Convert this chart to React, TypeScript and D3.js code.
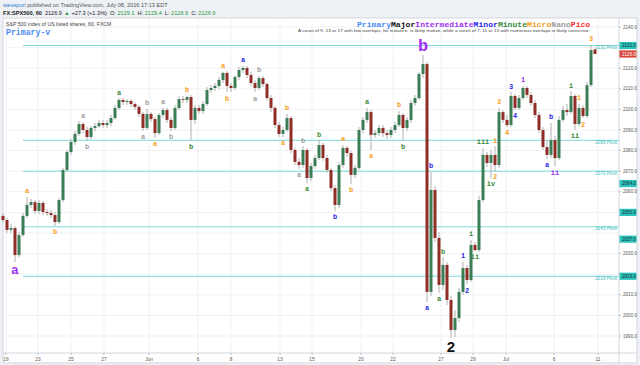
import React from 'react';
import * as d3 from 'd3';

// hourly-ish candles, [open, high, low, close]
const candles: [number, number, number, number][] = [
  [2048.3, 2049.7, 2045.3, 2046.3], [2046.3, 2047.3, 2040.0, 2041.5], [2041.5, 2044.4, 2040.0, 2042.4],
  [2042.4, 2043.4, 2025.9, 2029.3], [2029.3, 2040.5, 2028.3, 2039.0], [2039.0, 2049.7, 2038.1, 2048.3],
  [2048.3, 2057.5, 2047.3, 2053.6], [2053.6, 2056.5, 2052.1, 2055.0], [2055.0, 2056.0, 2049.2, 2050.7],
  [2050.7, 2056.0, 2049.2, 2054.6], [2054.6, 2055.5, 2048.7, 2050.2], [2050.2, 2051.6, 2048.3, 2049.7],
  [2049.7, 2051.2, 2047.3, 2048.7], [2048.7, 2050.2, 2043.4, 2045.3], [2045.3, 2057.0, 2044.4, 2056.0],
  [2056.0, 2071.6, 2055.0, 2070.6], [2070.6, 2080.3, 2069.6, 2079.3], [2079.3, 2085.6, 2077.9, 2084.2],
  [2084.2, 2089.5, 2082.7, 2088.1], [2088.1, 2094.4, 2087.1, 2092.9], [2092.9, 2093.9, 2088.5, 2090.0],
  [2090.0, 2091.5, 2085.1, 2086.6], [2086.6, 2091.9, 2085.6, 2091.0], [2091.0, 2093.4, 2089.5, 2091.9],
  [2091.9, 2094.9, 2091.0, 2093.4], [2093.4, 2094.9, 2091.0, 2092.4], [2092.4, 2094.9, 2091.0, 2093.4],
  [2093.4, 2097.3, 2091.9, 2095.8], [2095.8, 2102.1, 2094.9, 2100.7], [2100.7, 2105.5, 2099.7, 2104.6],
  [2104.6, 2105.5, 2102.1, 2103.6], [2103.6, 2105.0, 2102.1, 2104.1], [2104.1, 2105.0, 2101.2, 2102.6],
  [2102.6, 2103.6, 2099.7, 2101.2], [2101.2, 2102.1, 2096.3, 2097.8], [2097.8, 2098.7, 2089.5, 2091.0],
  [2091.0, 2100.2, 2090.0, 2097.8], [2097.8, 2098.7, 2093.9, 2095.3], [2095.3, 2096.3, 2086.1, 2088.5],
  [2088.5, 2098.3, 2087.6, 2097.3], [2097.3, 2100.7, 2095.8, 2099.7], [2099.7, 2100.7, 2093.4, 2094.9],
  [2094.9, 2096.3, 2089.5, 2091.0], [2091.0, 2102.1, 2090.0, 2100.7], [2100.7, 2106.5, 2099.7, 2105.0],
  [2105.0, 2106.5, 2103.1, 2104.6], [2104.6, 2106.5, 2103.1, 2106.0], [2106.0, 2107.0, 2085.1, 2094.9],
  [2094.9, 2102.1, 2092.9, 2100.7], [2100.7, 2102.1, 2097.8, 2099.2], [2099.2, 2104.1, 2097.8, 2102.6],
  [2102.6, 2110.9, 2101.7, 2109.4], [2109.4, 2111.8, 2108.0, 2110.4], [2110.4, 2112.8, 2108.9, 2111.4],
  [2111.4, 2115.7, 2109.9, 2114.3], [2114.3, 2118.2, 2112.8, 2117.7], [2117.7, 2118.6, 2108.4, 2111.4],
  [2111.4, 2112.8, 2108.4, 2110.4], [2110.4, 2116.7, 2109.4, 2115.7], [2115.7, 2120.6, 2114.3, 2119.1],
  [2119.1, 2121.1, 2117.7, 2120.1], [2120.1, 2121.1, 2115.2, 2116.7], [2116.7, 2118.2, 2111.4, 2112.8],
  [2112.8, 2114.3, 2108.4, 2110.4], [2110.4, 2116.2, 2109.4, 2115.2], [2115.2, 2116.2, 2110.9, 2112.3],
  [2112.3, 2113.3, 2104.1, 2105.5], [2105.5, 2107.0, 2098.7, 2100.7], [2100.7, 2101.7, 2091.0, 2092.4],
  [2092.4, 2093.9, 2086.6, 2088.1], [2088.1, 2091.5, 2086.6, 2090.0], [2090.0, 2097.8, 2089.0, 2095.8],
  [2095.8, 2096.8, 2078.8, 2080.3], [2080.3, 2081.3, 2073.0, 2074.5], [2074.5, 2076.4, 2071.1, 2073.0],
  [2073.0, 2082.2, 2071.6, 2080.3], [2080.3, 2081.3, 2064.3, 2066.7], [2066.7, 2074.0, 2065.2, 2072.5],
  [2072.5, 2077.9, 2071.1, 2076.4], [2076.4, 2085.1, 2075.4, 2082.7], [2082.7, 2083.7, 2075.0, 2076.4],
  [2076.4, 2077.9, 2069.1, 2070.6], [2070.6, 2071.6, 2060.4, 2061.8], [2061.8, 2063.3, 2050.7, 2053.6],
  [2053.6, 2074.5, 2052.1, 2073.0], [2073.0, 2082.7, 2071.6, 2081.3], [2081.3, 2082.2, 2076.9, 2078.8],
  [2078.8, 2079.8, 2063.8, 2068.2], [2068.2, 2073.0, 2066.7, 2071.6], [2071.6, 2091.5, 2070.6, 2090.0],
  [2090.0, 2096.3, 2088.5, 2094.9], [2094.9, 2100.7, 2093.4, 2098.7], [2098.7, 2099.7, 2080.3, 2087.6],
  [2087.6, 2090.0, 2086.1, 2088.5], [2088.5, 2092.4, 2087.1, 2091.0], [2091.0, 2092.4, 2086.6, 2088.5],
  [2088.5, 2090.0, 2085.6, 2087.6], [2087.6, 2091.5, 2086.1, 2090.0], [2090.0, 2093.9, 2088.5, 2092.4],
  [2092.4, 2099.2, 2091.5, 2097.3], [2097.3, 2098.3, 2085.1, 2091.0], [2091.0, 2096.3, 2089.5, 2094.9],
  [2094.9, 2104.6, 2093.4, 2103.1], [2103.1, 2107.0, 2101.7, 2105.5], [2105.5, 2118.2, 2104.6, 2117.2],
  [2117.2, 2126.4, 2115.2, 2122.0], [2122.0, 2123.0, 2006.5, 2011.4], [2011.4, 2069.6, 2009.4, 2060.9],
  [2060.9, 2062.8, 2035.6, 2037.6], [2037.6, 2040.5, 2010.9, 2014.8], [2014.8, 2028.3, 2012.3, 2024.5],
  [2024.5, 2025.9, 2005.0, 2007.5], [2007.5, 2009.4, 1989.0, 1992.9], [1992.9, 2002.6, 1989.5, 1998.7],
  [1998.7, 2013.3, 1996.8, 2011.4], [2011.4, 2025.9, 2009.9, 2023.0], [2023.0, 2024.5, 2015.2, 2017.2],
  [2017.2, 2036.6, 2016.2, 2034.2], [2034.2, 2035.6, 2031.3, 2031.7], [2031.7, 2058.0, 2030.8, 2056.0],
  [2056.0, 2081.3, 2055.0, 2077.9], [2077.9, 2079.3, 2072.0, 2074.0], [2074.0, 2080.3, 2066.7, 2077.9],
  [2077.9, 2082.2, 2070.1, 2073.0], [2073.0, 2100.7, 2071.6, 2098.7], [2098.7, 2099.7, 2093.4, 2094.9],
  [2094.9, 2097.3, 2091.5, 2092.4], [2092.4, 2108.4, 2091.5, 2106.5], [2106.5, 2107.5, 2099.7, 2100.7],
  [2100.7, 2107.0, 2099.7, 2105.5], [2105.5, 2111.4, 2104.6, 2110.4], [2110.4, 2111.4, 2105.5, 2107.0],
  [2107.0, 2108.4, 2101.7, 2103.1], [2103.1, 2104.6, 2095.8, 2097.3], [2097.3, 2098.7, 2088.5, 2090.0],
  [2090.0, 2091.5, 2080.3, 2081.7], [2081.7, 2085.1, 2075.9, 2077.9], [2077.9, 2093.4, 2076.4, 2085.1],
  [2085.1, 2087.1, 2072.5, 2076.4], [2076.4, 2096.8, 2075.4, 2094.9], [2094.9, 2101.7, 2093.9, 2099.7],
  [2099.7, 2102.6, 2096.8, 2098.7], [2098.7, 2108.9, 2097.8, 2106.5], [2106.5, 2107.5, 2090.0, 2092.9],
  [2092.9, 2102.6, 2091.9, 2100.7], [2100.7, 2102.1, 2095.8, 2096.8], [2096.8, 2113.3, 2095.8, 2111.8],
  [2111.8, 2131.3, 2110.9, 2128.8], [2129.1, 2129.4, 2126.9, 2126.9],
];

const priceTicks = [2140, 2130, 2120, 2110, 2100, 2090, 2080, 2070, 2060, 2050, 2040, 2030, 2020, 2010, 2000, 1990];
const dateLabels = ['19', '23', '25', '27', 'Jun', '6', '8', '13', '15', '20', '22', '27', '29', 'Jul', '6', '11'];
const dateBars = [0.75, 8.75, 17, 25.25, 36.5, 48.75, 57, 69.25, 77.25, 89.5, 97.5, 109.5, 117.5, 125.75, 137.75, 148.75];

const pivots = [2131, 2085, 2070, 2043, 2019];
const axisMarks = [2131, 2064, 2050, 2037, 2019];

const degrees = ['Primary', 'Major', 'Intermediate', 'Minor', 'Minute', 'Micro', 'Nano', 'Pico'];
const degreeColors = ['#4a8cf5', '#111111', '#a030f0', '#2626e8', '#3c8a3c', '#f7a01c', '#a0a0a0', '#ff3030'];

// [bar, text, degree, above?, size]
const waves: [number, string, string, boolean, number][] = [
  [3, 'a', 'Intermediate', false, 13], [6, 'a', 'Micro', true, 7], [13, 'b', 'Micro', false, 7],
  [20, 'a', 'Nano', true, 7], [21, 'b', 'Nano', false, 7], [29, 'a', 'Minute', true, 7],
  [35, 'a', 'Nano', false, 7], [36, 'b', 'Nano', true, 7], [38, 'a', 'Micro', false, 7],
  [40, 'a', 'Nano', true, 7], [42, 'b', 'Nano', false, 7], [46, 'b', 'Micro', true, 7],
  [47, 'b', 'Minute', false, 7], [55, 'a', 'Micro', true, 7], [56, 'b', 'Micro', false, 7],
  [60, 'a', 'Minor', true, 7], [63, 'a', 'Nano', false, 7], [64, 'b', 'Nano', true, 7],
  [70, 'a', 'Micro', false, 7], [71, 'b', 'Micro', true, 7], [74, 'a', 'Nano', false, 7],
  [75, 'b', 'Nano', true, 7], [76, 'a', 'Minute', false, 7], [79, 'b', 'Minute', true, 7],
  [83, 'b', 'Minor', false, 7], [85, 'a', 'Micro', true, 7], [87, 'b', 'Micro', false, 7],
  [91, 'a', 'Minute', true, 7], [92, 'a', 'Micro', false, 7], [99, 'b', 'Micro', true, 7],
  [100, 'b', 'Minute', false, 7], [105, 'b', 'Intermediate', true, 17], [106, 'a', 'Minor', false, 7],
  [107, 'b', 'Minor', true, 7], [109, 'a', 'Minute', false, 7], [110, 'b', 'Minute', true, 7],
  [112, '2', 'Major', false, 15], [115, '1', 'Minor', true, 7], [116, '2', 'Minor', false, 7],
  [117, 'i', 'Minute', true, 7], [118, 'ii', 'Minute', false, 7], [120, 'iii', 'Minute', true, 7],
  [122, 'iv', 'Minute', false, 7], [123, 'i', 'Micro', true, 7], [123, '2', 'Micro', false, 7],
  [124, '3', 'Micro', true, 7], [126, '4', 'Micro', false, 7], [127, '3', 'Minor', true, 7],
  [128, '4', 'Minor', false, 7], [130, '1', 'Intermediate', true, 7], [136, 'a', 'Minor', false, 7],
  [137, 'b', 'Minor', true, 7], [138, 'ii', 'Intermediate', false, 7], [142, 'i', 'Minute', true, 7],
  [143, 'ii', 'Minute', false, 7], [144, '1', 'Micro', true, 7], [145, '2', 'Micro', false, 7],
  [147, '3', 'Micro', true, 7],
];

const mono = "'Liberation Mono', 'DejaVu Sans Mono', monospace";
const sans = "Arial, 'Liberation Sans', sans-serif";

export default function App() {
  const left = 3, right = 619, top = 18, bottom = 353;
  const x = d3.scaleLinear().domain([0, 148]).range([3, 595]);
  const y = d3.scaleLinear().domain([1990, 2140]).range([336, 27]);
  const color = d3.scaleOrdinal<string, string>().domain(degrees).range(degreeColors);
  const fmt = d3.format('.1f');
  const bw = 3;
  const last = candles[candles.length - 1];
  const boxed = [...axisMarks, last[3]];
  // tick labels hidden behind the coloured axis boxes, as on the original
  const freeTicks = priceTicks.filter(p => boxed.every(b => Math.abs(y(p) - y(b)) > 7.5));

  return (
    <svg width={640} height={365} style={{ position: 'absolute', left: 0, top: 0 }} fontFamily={sans}>
      <rect width={640} height={365} fill="#eef1f5" />
      <text x={3} y={7} fontSize={5.6} fill="#555">
        <tspan fill="#2f7ad0">stevepuri</tspan> published on TradingView.com, July 08, 2016 17:13 EDT
      </text>
      <text x={3} y={14.5} fontSize={5.6} fill="#222">
        <tspan fontWeight="bold">FX:SPX500, 60</tspan>
        <tspan dx={3}>2126.9</tspan>
        <tspan dx={2} fill="#2a9a3a">▲</tspan>
        <tspan dx={2}>+27.3 (+1.3%)</tspan>
        <tspan dx={3}>O: </tspan><tspan fill="#2a9a3a">2129.1</tspan>
        <tspan dx={3}>H: </tspan><tspan fill="#2a9a3a">2129.4</tspan>
        <tspan dx={3}>L: </tspan><tspan fill="#2a9a3a">2126.9</tspan>
        <tspan dx={3}>C: </tspan><tspan fill="#2a9a3a">2126.9</tspan>
      </text>

      <rect x={left} y={top} width={637 - left} height={363 - top} fill="#fff" stroke="#c8ccd2" strokeWidth={0.8} />

      {priceTicks.map(p => (
        <line key={'h' + p} x1={left} x2={right} y1={y(p)} y2={y(p)} stroke="#f0f1f3" strokeWidth={1} />
      ))}
      {dateBars.map((b, i) => (
        <line key={'v' + i} x1={x(b)} x2={x(b)} y1={top} y2={bottom} stroke="#f0f1f3" strokeWidth={1} />
      ))}

      <text x={6} y={26} fontSize={5.2} fill="#444">S&amp;P 500 index of US listed shares, 60, FXCM</text>
      <text x={6} y={35} fontSize={8.2} fontFamily={mono} fontWeight="bold" fill={color('Primary')}>Primary-v</text>
      <text x={357} y={27} fontSize={8.1} fontFamily={mono} fontWeight="bold">
        {degrees.map(d => <tspan key={d} fill={color(d)}>{d}</tspan>)}
      </text>
      <text x={590} y={32} fontSize={4} fill="#444" textAnchor="end" textLength={292} lengthAdjust="spacingAndGlyphs">
        A count of 9, 13 or 17 with few overlaps, for instance, is likely motive, while a count of 7, 11 or 15 with numerous overlaps is likely corrective.
      </text>

      {pivots.map(p => (
        <g key={'p' + p}>
          <line x1={23} x2={right} y1={y(p)} y2={y(p)} stroke="#7fd9d9" strokeWidth={1} />
          <text x={617} y={y(p) + 3.5} fontSize={4.6} fill="#3cbcbc" textAnchor="end">{p} Pivot</text>
        </g>
      ))}

      {candles.map((c, i) => {
        const [o, h, l, cl] = c;
        const up = cl >= o;
        const yt = y(Math.max(o, cl));
        const hgt = Math.max(0.8, y(Math.min(o, cl)) - yt);
        return (
          <g key={'c' + i}>
            <line x1={x(i)} x2={x(i)} y1={y(h)} y2={y(l)} stroke="#b0b0b0" strokeWidth={1} />
            <rect x={x(i) - bw / 2} y={yt} width={bw} height={hgt} fill={up ? '#3b7d55' : '#8f2e27'} />
          </g>
        );
      })}

      {waves.map(([b, t, d, above, s], i) => {
        const c = candles[b];
        const big = s > 10;
        const off = big ? s * 0.6 : 6;
        const cy = above ? y(c[1]) - off : y(c[2]) + off;
        return (
          <text key={'w' + i} x={x(b)} y={cy} dy="0.35em" textAnchor="middle" fontSize={s}
            fontFamily={d === 'Major' ? sans : mono} fontWeight="bold" fill={color(d)}>{t}</text>
        );
      })}

      <line x1={right} x2={right} y1={top} y2={363} stroke="#c8ccd2" strokeWidth={0.8} />
      <line x1={left} x2={637} y1={bottom} y2={bottom} stroke="#c8ccd2" strokeWidth={0.8} />

      {freeTicks.map(p => (
        <g key={'t' + p}>
          <line x1={right} x2={right + 2} y1={y(p)} y2={y(p)} stroke="#999" strokeWidth={0.6} />
          <text x={623} y={y(p)} dy="0.35em" fontSize={4.6} fill="#555">{fmt(p)}</text>
        </g>
      ))}
      {axisMarks.map(p => (
        <g key={'m' + p}>
          <rect x={right + 0.5} y={y(p) - 3.6} width={17} height={7.2} fill="#2ec2bd" />
          <text x={622} y={y(p)} dy="0.35em" fontSize={4.6} fill="#103030">{fmt(p)}</text>
        </g>
      ))}
      <rect x={right + 0.5} y={y(last[3]) - 3.6} width={17} height={7.2} fill="#d9473b" />
      <text x={622} y={y(last[3])} dy="0.35em" fontSize={4.6} fill="#fff">{fmt(last[3])}</text>

      {dateBars.map((b, i) => (
        <g key={'d' + i}>
          <line x1={x(b)} x2={x(b)} y1={bottom} y2={bottom + 2} stroke="#999" strokeWidth={0.6} />
          <text x={x(b)} y={359} dy="0.35em" fontSize={4.8} fill="#555" textAnchor="middle">{dateLabels[i]}</text>
        </g>
      ))}
    </svg>
  );
}
